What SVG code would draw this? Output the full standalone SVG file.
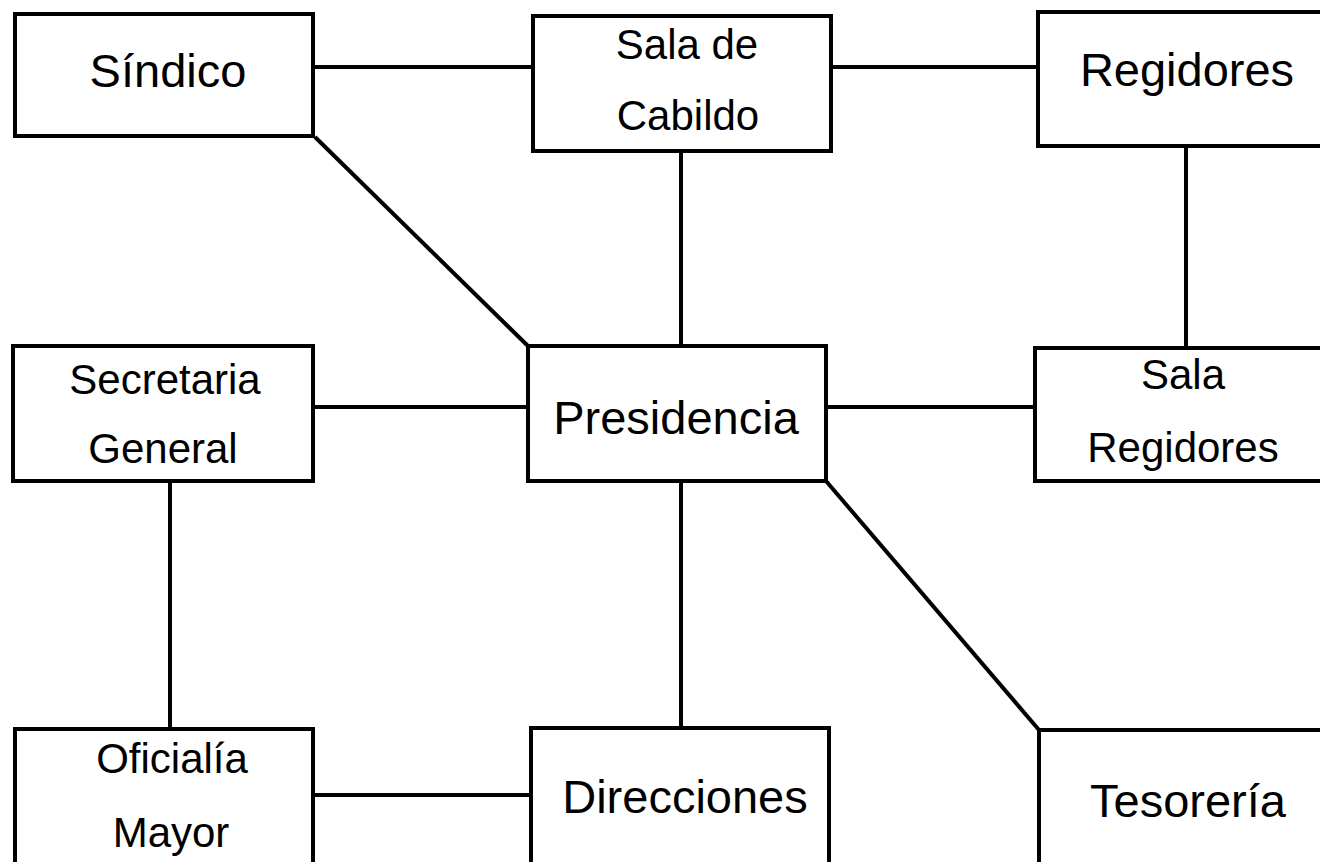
<svg xmlns="http://www.w3.org/2000/svg" width="1320" height="862" viewBox="0 0 1320 862">
<style>
.box{fill:#fff;stroke:#000;stroke-width:4}
.c{stroke:#000;stroke-width:4;fill:none}
.t{font-family:"Liberation Sans",Arial,sans-serif;fill:#000;text-anchor:middle}
.big{font-size:47px}
.sm{font-size:42px}
</style>
<rect width="1320" height="862" fill="#fff"/>
<g id="connectors">
<line class="c" x1="313" y1="67" x2="533" y2="67"/>
<line class="c" x1="831" y1="67" x2="1038" y2="67"/>
<line class="c" x1="315" y1="137" x2="529" y2="347"/>
<line class="c" x1="681" y1="151" x2="681" y2="346"/>
<line class="c" x1="1186" y1="146" x2="1186" y2="348"/>
<line class="c" x1="313" y1="407" x2="528" y2="407"/>
<line class="c" x1="826" y1="407" x2="1035" y2="407"/>
<line class="c" x1="170" y1="481" x2="170" y2="729"/>
<line class="c" x1="681" y1="481" x2="681" y2="728"/>
<line class="c" x1="826" y1="481" x2="1039" y2="730"/>
<line class="c" x1="313" y1="795" x2="531" y2="795"/>
</g>
<g id="sindico"><rect class="box" x="15" y="14" width="298" height="122"/><text class="t big" x="168" y="87">Síndico</text></g>
<g id="sala-cabildo"><rect class="box" x="533" y="16" width="298" height="135"/><text class="t sm" x="687" y="59">Sala de</text><text class="t sm" x="688" y="130">Cabildo</text></g>
<g id="regidores"><rect class="box" x="1038" y="12" width="300" height="134"/><text class="t big" x="1187" y="86">Regidores</text></g>
<g id="secretaria"><rect class="box" x="13" y="346" width="300" height="135"/><text class="t sm" x="165" y="394">Secretaria</text><text class="t sm" x="163" y="463">General</text></g>
<g id="presidencia"><rect class="box" x="528" y="346" width="298" height="135"/><text class="t big" x="676" y="434">Presidencia</text></g>
<g id="sala-regidores"><rect class="box" x="1035" y="348" width="300" height="133"/><text class="t sm" x="1183" y="389">Sala</text><text class="t sm" x="1183" y="462">Regidores</text></g>
<g id="oficialia"><rect class="box" x="15" y="729" width="298" height="150"/><text class="t sm" x="172" y="773">Oficialía</text><text class="t sm" x="171" y="847">Mayor</text></g>
<g id="direcciones"><rect class="box" x="531" y="728" width="298" height="150"/><text class="t big" x="685" y="813">Direcciones</text></g>
<g id="tesoreria"><rect class="box" x="1039" y="730" width="300" height="150"/><text class="t big" x="1188" y="817">Tesorería</text></g>
</svg>
